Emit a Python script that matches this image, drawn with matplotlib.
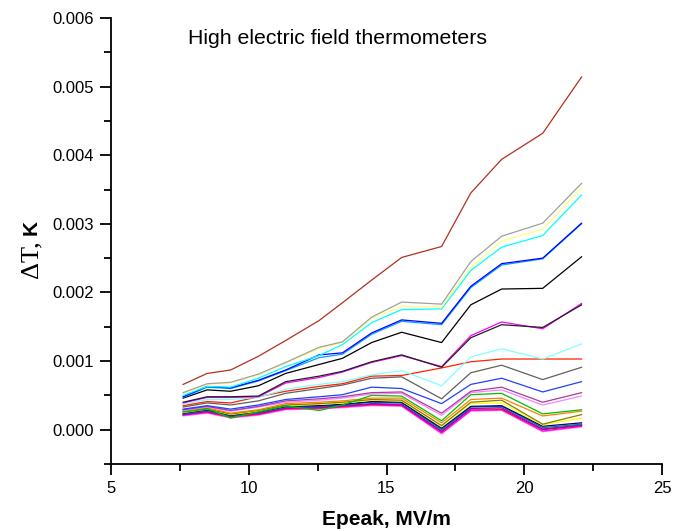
import matplotlib
matplotlib.use("Agg")
import matplotlib.pyplot as plt
from matplotlib.ticker import MultipleLocator, FormatStrFormatter

# Epeak values (MV/m)
epeak = [7.62, 8.49, 9.34, 10.35, 11.34, 12.55, 13.4, 14.46, 15.55, 17.0, 18.06, 19.18, 20.67, 22.08]

# Temperature rise per thermometer (K)
t_brown = [0.00066, 0.00082, 0.00087, 0.00107, 0.0013, 0.00159, 0.00185, 0.00218, 0.00251, 0.00267, 0.00345, 0.00394, 0.00432, 0.00514]
t_gray = [0.00054, 0.00067, 0.00069, 0.00081, 0.00098, 0.0012, 0.00128, 0.00164, 0.00186, 0.00183, 0.00245, 0.00282, 0.00301, 0.00359]
t_lyellow = [0.00053, 0.00066, 0.00068, 0.0008, 0.00097, 0.00118, 0.00127, 0.00162, 0.0018, 0.00179, 0.00237, 0.00275, 0.00292, 0.00352]
t_cyan = [0.0005, 0.00063, 0.00062, 0.00075, 0.00092, 0.00108, 0.00124, 0.00156, 0.00175, 0.00176, 0.00232, 0.00266, 0.00283, 0.00342]
t_blue = [0.00048, 0.00063, 0.00061, 0.00072, 0.00087, 0.00109, 0.00112, 0.00141, 0.0016, 0.00155, 0.00209, 0.00242, 0.0025, 0.00301]
t_royal = [0.00047, 0.00062, 0.0006, 0.00071, 0.00086, 0.00105, 0.0011, 0.00139, 0.00158, 0.00153, 0.00207, 0.0024, 0.00249, 0.003]
t_black = [0.00046, 0.00058, 0.00056, 0.00064, 0.00082, 0.00095, 0.00104, 0.00127, 0.00142, 0.00127, 0.00182, 0.00205, 0.00206, 0.00252]
t_black2 = [0.0004, 0.00048, 0.00048, 0.00049, 0.0007, 0.00078, 0.00085, 0.00099, 0.00109, 0.00091, 0.00134, 0.00153, 0.00149, 0.00182]
t_magenta = [0.00039, 0.00047, 0.00047, 0.00048, 0.00068, 0.00076, 0.00084, 0.00098, 0.00108, 0.00092, 0.00137, 0.00157, 0.00147, 0.00184]
t_lcyan = [0.00037, 0.00044, 0.00044, 0.00047, 0.00059, 0.00066, 0.0007, 0.0008, 0.00086, 0.00064, 0.00106, 0.00118, 0.00103, 0.00125]
t_red = [0.00035, 0.00041, 0.00039, 0.00048, 0.00056, 0.00063, 0.00067, 0.00078, 0.00079, 0.0009, 0.00099, 0.00103, 0.00103, 0.00103]
t_dgray = [0.00033, 0.00039, 0.00036, 0.00042, 0.00053, 0.0006, 0.00065, 0.00075, 0.00077, 0.00045, 0.00083, 0.00094, 0.00073, 0.00091]
t_blue2 = [0.0003, 0.00035, 0.0003, 0.00036, 0.00044, 0.00048, 0.00051, 0.00062, 0.0006, 0.00038, 0.00066, 0.00075, 0.00055, 0.0007]
t_purple = [0.00029, 0.00034, 0.00028, 0.00034, 0.00042, 0.00045, 0.00048, 0.00054, 0.00055, 0.00024, 0.00056, 0.00062, 0.0004, 0.00054]
t_pink = [0.00028, 0.00033, 0.00027, 0.00033, 0.0004, 0.00043, 0.00046, 0.00052, 0.00053, 0.00021, 0.00054, 0.00058, 0.00036, 0.00049]
t_green = [0.00026, 0.00031, 0.00017, 0.00026, 0.00035, 0.00028, 0.00036, 0.0005, 0.00049, 0.00013, 0.00051, 0.00053, 0.00023, 0.00029]
t_orange = [0.00027, 0.00032, 0.00024, 0.00029, 0.00038, 0.0004, 0.00042, 0.00046, 0.00046, 0.0001, 0.00044, 0.00046, 0.0002, 0.00027]
t_olive = [0.00026, 0.0003, 0.00023, 0.00028, 0.00036, 0.00038, 0.0004, 0.00044, 0.00043, 0.00006, 0.0004, 0.00043, 0.00008, 0.00022]
t_yellow = [0.00025, 0.0003, 0.00022, 0.00027, 0.00035, 0.00037, 0.00039, 0.00043, 0.00042, 0.00005, 0.00038, 0.00039, 0.00007, 0.00017]
t_navy = [0.00024, 0.00029, 0.00021, 0.00026, 0.00034, 0.00035, 0.00037, 0.00041, 0.0004, 0.00002, 0.00034, 0.00035, 0.00005, 0.0001]
t_dcyan = [0.00023, 0.00028, 0.0002, 0.00025, 0.00033, 0.00034, 0.00036, 0.0004, 0.00039, 0.0, 0.00033, 0.00034, 0.00003, 0.00008]
t_violet = [0.00022, 0.00027, 0.0002, 0.00024, 0.00032, 0.00033, 0.00035, 0.00038, 0.00037, -0.00002, 0.00031, 0.00032, 0.00001, 0.00007]
t_red2 = [0.00022, 0.00026, 0.00019, 0.00023, 0.00031, 0.00032, 0.00034, 0.00037, 0.00036, -0.00003, 0.0003, 0.0003, 0.0, 0.00006]
t_magenta2 = [0.00021, 0.00025, 0.00018, 0.00022, 0.0003, 0.00031, 0.00033, 0.00036, 0.00035, -0.00005, 0.00028, 0.00029, -0.00002, 0.00005]
t_lmagenta = [0.0002, 0.00024, 0.00017, 0.00021, 0.00029, 0.0003, 0.00032, 0.00035, 0.00034, -0.00006, 0.00027, 0.00028, -0.00003, 0.00004]

series = [
    (t_lmagenta, "#FF80FF"), (t_magenta2, "#FF00FF"), (t_red2, "#FF0000"),
    (t_violet, "#8000FF"), (t_dcyan, "#008080"), (t_navy, "#000080"),
    (t_yellow, "#FFFF00"), (t_olive, "#808000"), (t_orange, "#FF8000"),
    (t_green, "#00C000"), (t_pink, "#FF80FF"), (t_purple, "#A040A0"),
    (t_blue2, "#2040FF"), (t_dgray, "#606060"), (t_red, "#FF2000"),
    (t_lcyan, "#80FFFF"), (t_magenta, "#FF00FF"), (t_black2, "#202020"),
    (t_black, "#000000"), (t_royal, "#00A0FF"), (t_blue, "#0000FF"),
    (t_cyan, "#00FFFF"), (t_lyellow, "#FFFF80"), (t_gray, "#A0A0A0"),
    (t_brown, "#B03020"),
]

plt.rcParams['font.family'] = ['Liberation Sans', 'DejaVu Sans']

fig = plt.figure(figsize=(6.85, 5.31), dpi=100)
ax = fig.add_axes([111/685, 1-464/531, (662-111)/685, (464-18)/531])

for vals, col in series:
    ax.plot(epeak, vals, color=col, lw=0.9)

ax.set_xlim(5, 25)
ax.set_ylim(-0.0005, 0.006)
ax.xaxis.set_major_locator(MultipleLocator(5))
ax.xaxis.set_minor_locator(MultipleLocator(2.5))
ax.yaxis.set_major_locator(MultipleLocator(0.001))
ax.yaxis.set_minor_locator(MultipleLocator(0.0005))
ax.yaxis.set_major_formatter(FormatStrFormatter('%.3f'))
ax.xaxis.set_major_formatter(FormatStrFormatter('%d'))
for s in ['top', 'right']:
    ax.spines[s].set_visible(False)
for s in ['left', 'bottom']:
    ax.spines[s].set_linewidth(1.3)
ax.tick_params(which='major', direction='out', length=8, width=1.3, labelsize=12, pad=4)
ax.tick_params(which='minor', direction='out', length=5, width=1.3)

ax.text(0.14, 0.955, "High electric field thermometers", transform=ax.transAxes,
        fontsize=15.3, ha='left', va='center')

ax.set_xlabel("Epeak, MV/m", fontsize=15, fontweight='bold', labelpad=10)

fig.text(37/685, 1-278/531, "ΔT,", rotation=90, ha='left', va='baseline',
         rotation_mode='anchor', fontsize=19, family=['Liberation Serif', 'DejaVu Serif'])
fig.text(37/685, 1-235/531, "K", rotation=90, ha='left', va='baseline',
         rotation_mode='anchor', fontsize=15, fontweight='bold')

fig.savefig("out.png", dpi=100)
